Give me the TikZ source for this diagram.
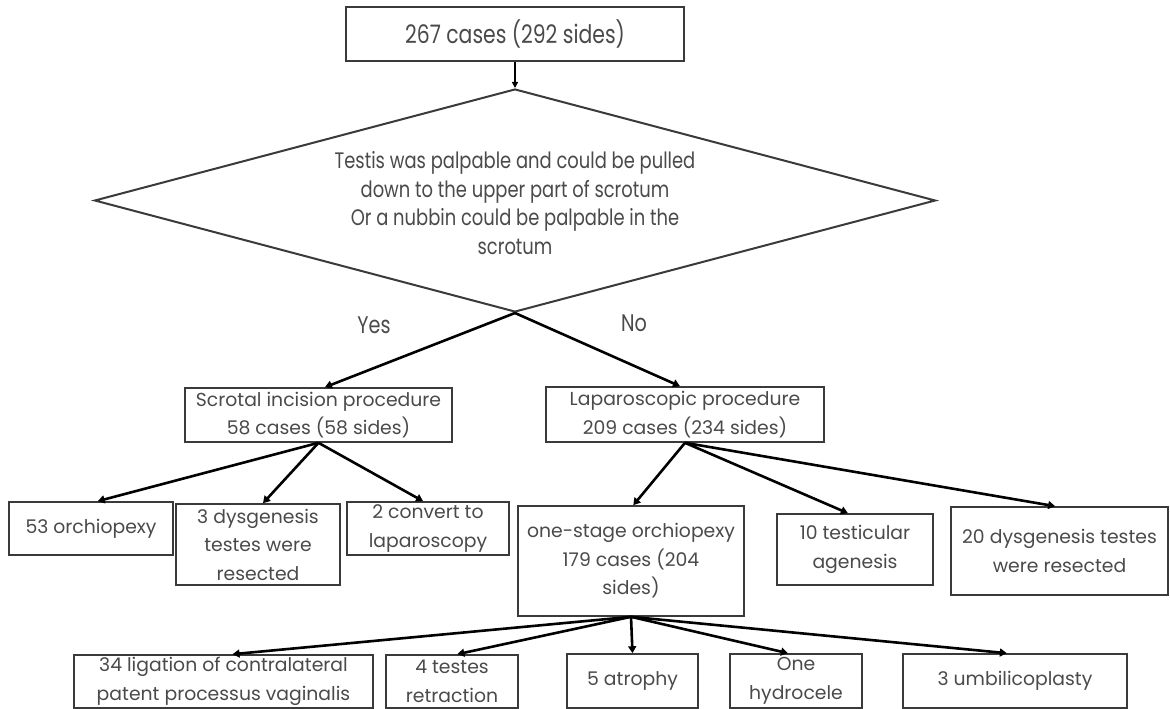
\documentclass[tikz,border=0pt]{standalone}
\usepackage{fontspec}
\setmainfont{Poppins}
\usetikzlibrary{arrows.meta,calc,shapes.geometric}
\definecolor{txt}{HTML}{4A4A4A}
\definecolor{edge}{HTML}{3A3A3A}
\newcommand{\cnd}[1]{\scalebox{0.8}[1]{#1}}
\begin{document}
\begin{tikzpicture}[x=1pt,y=-1pt,
  box/.style={draw=edge, line width=1.6pt, inner sep=0pt, align=center, text=txt,
    font=\fontsize{18.8}{28.5}\selectfont},
  arr/.style={line width=2.6pt, draw=black, -{Triangle[length=7pt,width=8pt]}},
  thinarr/.style={line width=1.6pt, draw=black, -{Triangle[length=6pt,width=6pt]}},
  lbl/.style={text=txt, font=\fontsize{24}{28}\selectfont, inner sep=0pt},
]
\useasboundingbox (0,0) rectangle (1170,709);
\fill[white] (0,0) rectangle (1170,709);

% level 0
\node[box, minimum width=338, minimum height=54, font=\fontsize{25.5}{28}\selectfont] (top) at (515,34) {\cnd{267 cases (292 sides)}};

% decision
\node[draw=edge, line width=2pt, diamond, minimum width=841, minimum height=223, inner sep=0pt] (dec) at (515,200.5) {};
\node[text=txt, align=center, inner sep=0pt, font=\fontsize{22.4}{28.7}\selectfont] (dectext) at (515,203)
  {\cnd{Testis was palpable and could be pulled}\\\cnd{down to the upper part of scrotum}\\\cnd{Or a nubbin could be palpable in the}\\\cnd{scrotum}};
\node[lbl] (yes) at (374,325) {\cnd{Yes}};
\node[lbl] (no) at (634,323) {\cnd{No}};

% level 2
\node[box, minimum width=267, minimum height=54] (scr) at (318.5,415) {Scrotal incision procedure\\58 cases (58 sides)};
\node[box, minimum width=278, minimum height=55] (lap) at (685,414.5) {Laparoscopic procedure\\209 cases (234 sides)};

% level 3
\node[box, minimum width=164, minimum height=53] (orch) at (91,528.5) {53 orchiopexy};
\node[box, minimum width=164, minimum height=81] (dysa) at (258,544.5) {3 dysgenesis\\testes were\\resected};
\node[box, minimum width=162, minimum height=53] (conv) at (428,528.5) {2 convert to\\laparoscopy};
\node[box, minimum width=226, minimum height=110] (one) at (631,561) {one-stage orchiopexy\\179 cases (204\\sides)};
\node[box, minimum width=156, minimum height=71] (agen) at (855,549.5) {10 testicular\\agenesis};
\node[box, minimum width=217, minimum height=88] (dysb) at (1059.5,551) {20 dysgenesis testes\\were resected};

% level 4
\node[box, minimum width=299, minimum height=53] (lig) at (223.5,681.5) {34 ligation of contralateral\\patent processus vaginalis};
\node[box, minimum width=132, minimum height=53] (retr) at (452,681.5) {4 testes\\retraction};
\node[box, minimum width=131, minimum height=54] (atro) at (632.5,681) {5 atrophy};
\node[box, minimum width=132, minimum height=54] (hydr) at (796,681) {One\\hydrocele};
\node[box, minimum width=224, minimum height=54] (umb) at (1015,681) {3 umbilicoplasty};

% connectors
\draw[thinarr] (top.south) -- (dec.north);
\draw[arr] (dec.south) -- ($(scr.north west)!0.524!(scr.north east)$);
\draw[arr] (dec.south) -- ($(lap.north west)!0.482!(lap.north east)$);

\draw[arr] (scr.south) -- ($(orch.north west)!0.54!(orch.north east)$);
\draw[arr] (scr.south) -- ($(dysa.north west)!0.53!(dysa.north east)$);
\draw[arr] (scr.south) -- ($(conv.north west)!0.47!(conv.north east)$);

\draw[arr] (lap.south) -- ($(one.north west)!0.51!(one.north east)$);
\draw[arr] (lap.south) -- ($(agen.north west)!0.455!(agen.north east)$);
\draw[arr] (lap.south) -- ($(dysb.north west)!0.48!(dysb.north east)$);

\draw[arr] (one.south) -- ($(lig.north west)!0.53!(lig.north east)$);
\draw[arr] (one.south) -- ($(retr.north west)!0.54!(retr.north east)$);
\draw[arr] (one.south) -- (atro.north);
\draw[arr] (one.south) -- ($(hydr.north west)!0.44!(hydr.north east)$);
\draw[arr] (one.south) -- ($(umb.north west)!0.464!(umb.north east)$);
\end{tikzpicture}
\end{document}
